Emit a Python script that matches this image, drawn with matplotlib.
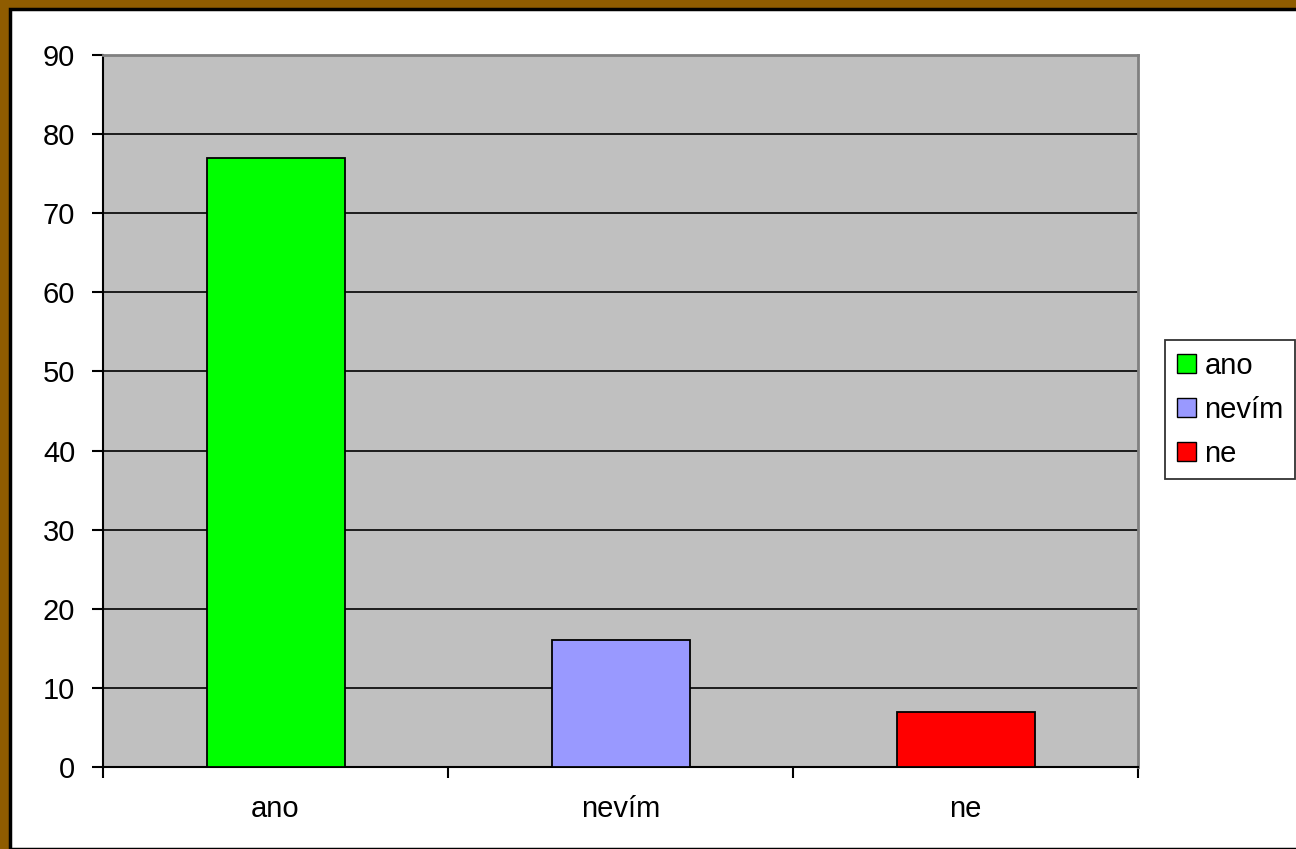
import matplotlib.pyplot as plt
from matplotlib.patches import Rectangle, Patch

categories = ["ano", "nevím", "ne"]
values = [77, 16, 7]
colors = ["#00FF00", "#9999FF", "#FF0000"]

plt.rcParams['font.family'] = ['Liberation Sans', 'DejaVu Sans']

W, H = 1296, 849
fig = plt.figure(figsize=(W / 100, H / 100), dpi=100)
fig.patch.set_facecolor('#8F5C00')
# white slide area with black edge
fig.add_artist(Rectangle((10 / W, 0), 1.0, (H - 9) / H, transform=fig.transFigure,
                         facecolor='white', edgecolor='black', linewidth=2.5, zorder=0))

ax = fig.add_axes([103 / W, (H - 767) / H, (1138 - 103) / W, (767 - 55) / H])
ax.set_facecolor('#C0C0C0')
x = range(len(categories))
ax.bar(x, values, width=0.4, color=colors, edgecolor='black', linewidth=1.3, zorder=3)

ax.set_ylim(0, 90)
ax.set_xlim(-0.5, 2.5)
ax.set_yticks(range(0, 91, 10))
ax.yaxis.grid(True, color='black', linewidth=1.2, zorder=1)
ax.set_axisbelow(True)
ax.set_xticks([-0.5, 0.5, 1.5, 2.5])
ax.set_xticklabels([])
ax.set_xticks(list(x), minor=True)
ax.set_xticklabels(categories, minor=True)
ax.tick_params(axis='x', which='minor', length=0, pad=20, labelsize=21)
ax.tick_params(axis='x', which='major', length=8, width=1.5, direction='out')
ax.tick_params(axis='y', length=8, width=1.5, direction='out', labelsize=21, pad=12)

for s in ['left', 'bottom']:
    ax.spines[s].set_color('black')
    ax.spines[s].set_linewidth(1.5)
for s in ['top', 'right']:
    ax.spines[s].set_color('#808080')
    ax.spines[s].set_linewidth(2)

handles = [Patch(facecolor=c, edgecolor='black', label=l) for c, l in zip(colors, categories)]
leg = fig.legend(handles=handles, loc='upper left', bbox_to_anchor=(1165 / W, 1 - 340 / H),
                 fontsize=21, frameon=True, fancybox=False, edgecolor='black',
                 handlelength=0.65, handleheight=0.65, handletextpad=0.3,
                 labelspacing=0.55, borderpad=0.4, borderaxespad=0)
leg.get_frame().set_linewidth(1.3)

fig.savefig('out.png', dpi=100, facecolor=fig.get_facecolor())
